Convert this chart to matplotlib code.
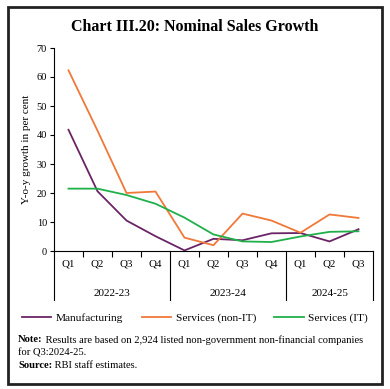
import matplotlib.pyplot as plt
from matplotlib.patches import Rectangle

quarters = ["Q1", "Q2", "Q3", "Q4", "Q1", "Q2", "Q3", "Q4", "Q1", "Q2", "Q3"]
years = ["2022-23", "2023-24", "2024-25"]
year_span = [(0, 3), (4, 7), (8, 10)]

manufacturing = [41.8, 20.6, 10.5, 5.1, 0.2, 4.2, 3.7, 6.1, 6.2, 3.3, 7.5]
services_non_it = [62.3, 41.5, 20.0, 20.5, 4.6, 2.0, 12.9, 10.5, 6.3, 12.6, 11.4]
services_it = [21.5, 21.5, 19.3, 16.3, 11.5, 5.7, 3.3, 3.1, 5.0, 6.6, 6.8]

plt.rcParams['font.family'] = ['Liberation Serif', 'DejaVu Serif']

fig = plt.figure(figsize=(3.9, 3.89), dpi=100)
ax = fig.add_axes([54/390, 1 - 251/389, 319/390, 203/389])

x = list(range(len(quarters)))
ax.plot(x, manufacturing, color="#6a2466", lw=1.3, label="Manufacturing")
ax.plot(x, services_non_it, color="#f07838", lw=1.3, label="Services (non-IT)")
ax.plot(x, services_it, color="#20b04a", lw=1.3, label="Services (IT)")

ax.set_xlim(-0.5, 10.5)
ax.set_ylim(0, 70)
ax.set_yticks(range(0, 71, 10))
ax.tick_params(axis="y", labelsize=7.5, length=3, width=0.8, pad=2)
ax.set_ylabel("Y-o-y growth in per cent", fontsize=8, labelpad=4)

# quarter labels and tick marks between quarters
ax.set_xticks(x)
ax.set_xticklabels(quarters, fontsize=7.8)
ax.tick_params(axis="x", length=0, pad=6)
ax.set_xticks([0.5, 1.5, 2.5, 4.5, 5.5, 6.5, 8.5, 9.5], minor=True)
ax.tick_params(axis="x", which="minor", length=4, width=0.8, direction="out")

for s in ["top", "right"]:
    ax.spines[s].set_visible(False)
ax.spines["left"].set_linewidth(0.8)
ax.spines["bottom"].set_linewidth(0.8)

trans = ax.get_xaxis_transform()
depth = -(300 - 251) / 203
for bx in [-0.5, 3.5, 7.5, 10.5]:
    ax.plot([bx, bx], [0, depth], color="black", lw=0.8, transform=trans, clip_on=False)
for name, (a, b) in zip(years, year_span):
    ax.text((a + b) / 2, -(293 - 251) / 203, name, transform=trans,
            ha="center", va="center", fontsize=8)

fig.text(0.5, 1 - 27/389, "Chart III.20: Nominal Sales Growth", ha="center", va="center",
         fontsize=11.5, fontweight="bold")

fig.legend(loc="center", bbox_to_anchor=(0.5, 1 - 318/389), ncol=3, frameon=False,
           fontsize=8.2, handlelength=2.6, columnspacing=1.6, handletextpad=0.4)

t1 = fig.text(18/390, 1 - 340/389, "Note:", fontsize=7.6, fontweight="bold", va="center")
ax.annotate(" Results are based on 2,924 listed non-government non-financial companies",
            xy=(1, 0.5), xycoords=t1, va="center", fontsize=7.6, annotation_clip=False)
fig.text(18/390, 1 - 353/389, "for Q3:2024-25.", fontsize=7.6, va="center")
t2 = fig.text(18/390, 1 - 366/389, "Source:", fontsize=7.6, fontweight="bold", va="center")
ax.annotate(" RBI staff estimates.", xy=(1, 0.5), xycoords=t2, va="center", fontsize=7.6,
            annotation_clip=False)

fig.patches.append(Rectangle((8/390, 1 - 384/389), 374/390, 377/389, transform=fig.transFigure,
                             fill=False, edgecolor="#222222", lw=2))

fig.savefig("out.png", dpi=100)
